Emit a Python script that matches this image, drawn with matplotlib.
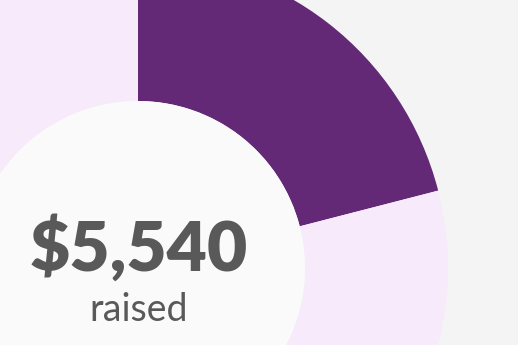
import matplotlib.pyplot as plt
from matplotlib.patches import Circle

DARK = "#632876"
LIGHT = "#f7eafb"
HOLE = "#fafafa"
BG = "#f4f4f4"
TEXT = "#595959"

raised = 5540
goal = 26400
values = [raised, goal - raised]
label_amount = "$5,540"
label_caption = "raised"

W, H = 518, 345
center = (138, 345 - 268)
r_out, r_in = 310, 167

fig = plt.figure(figsize=(W / 100, H / 100), dpi=100, facecolor=BG)
ax = fig.add_axes([0, 0, 1, 1])
ax.set_facecolor(BG)

ax.pie(values, colors=[DARK, LIGHT], startangle=90, counterclock=False,
       center=center, radius=r_out,
       wedgeprops=dict(width=r_out - r_in, linewidth=0))
ax.add_patch(Circle(center, r_in, facecolor=HOLE, edgecolor="none"))

ax.text(138.5, 345 - 249, label_amount, ha="center", va="center",
        fontsize=50, fontweight="heavy", family="Lato", color=TEXT)
ax.text(138.5, 345 - 310, label_caption, ha="center", va="center",
        fontsize=27, family="Lato", color=TEXT)

ax.set_xlim(0, W)
ax.set_ylim(0, H)
ax.set_aspect("equal")
ax.axis("off")

fig.savefig("out.png", dpi=100, facecolor=BG)
